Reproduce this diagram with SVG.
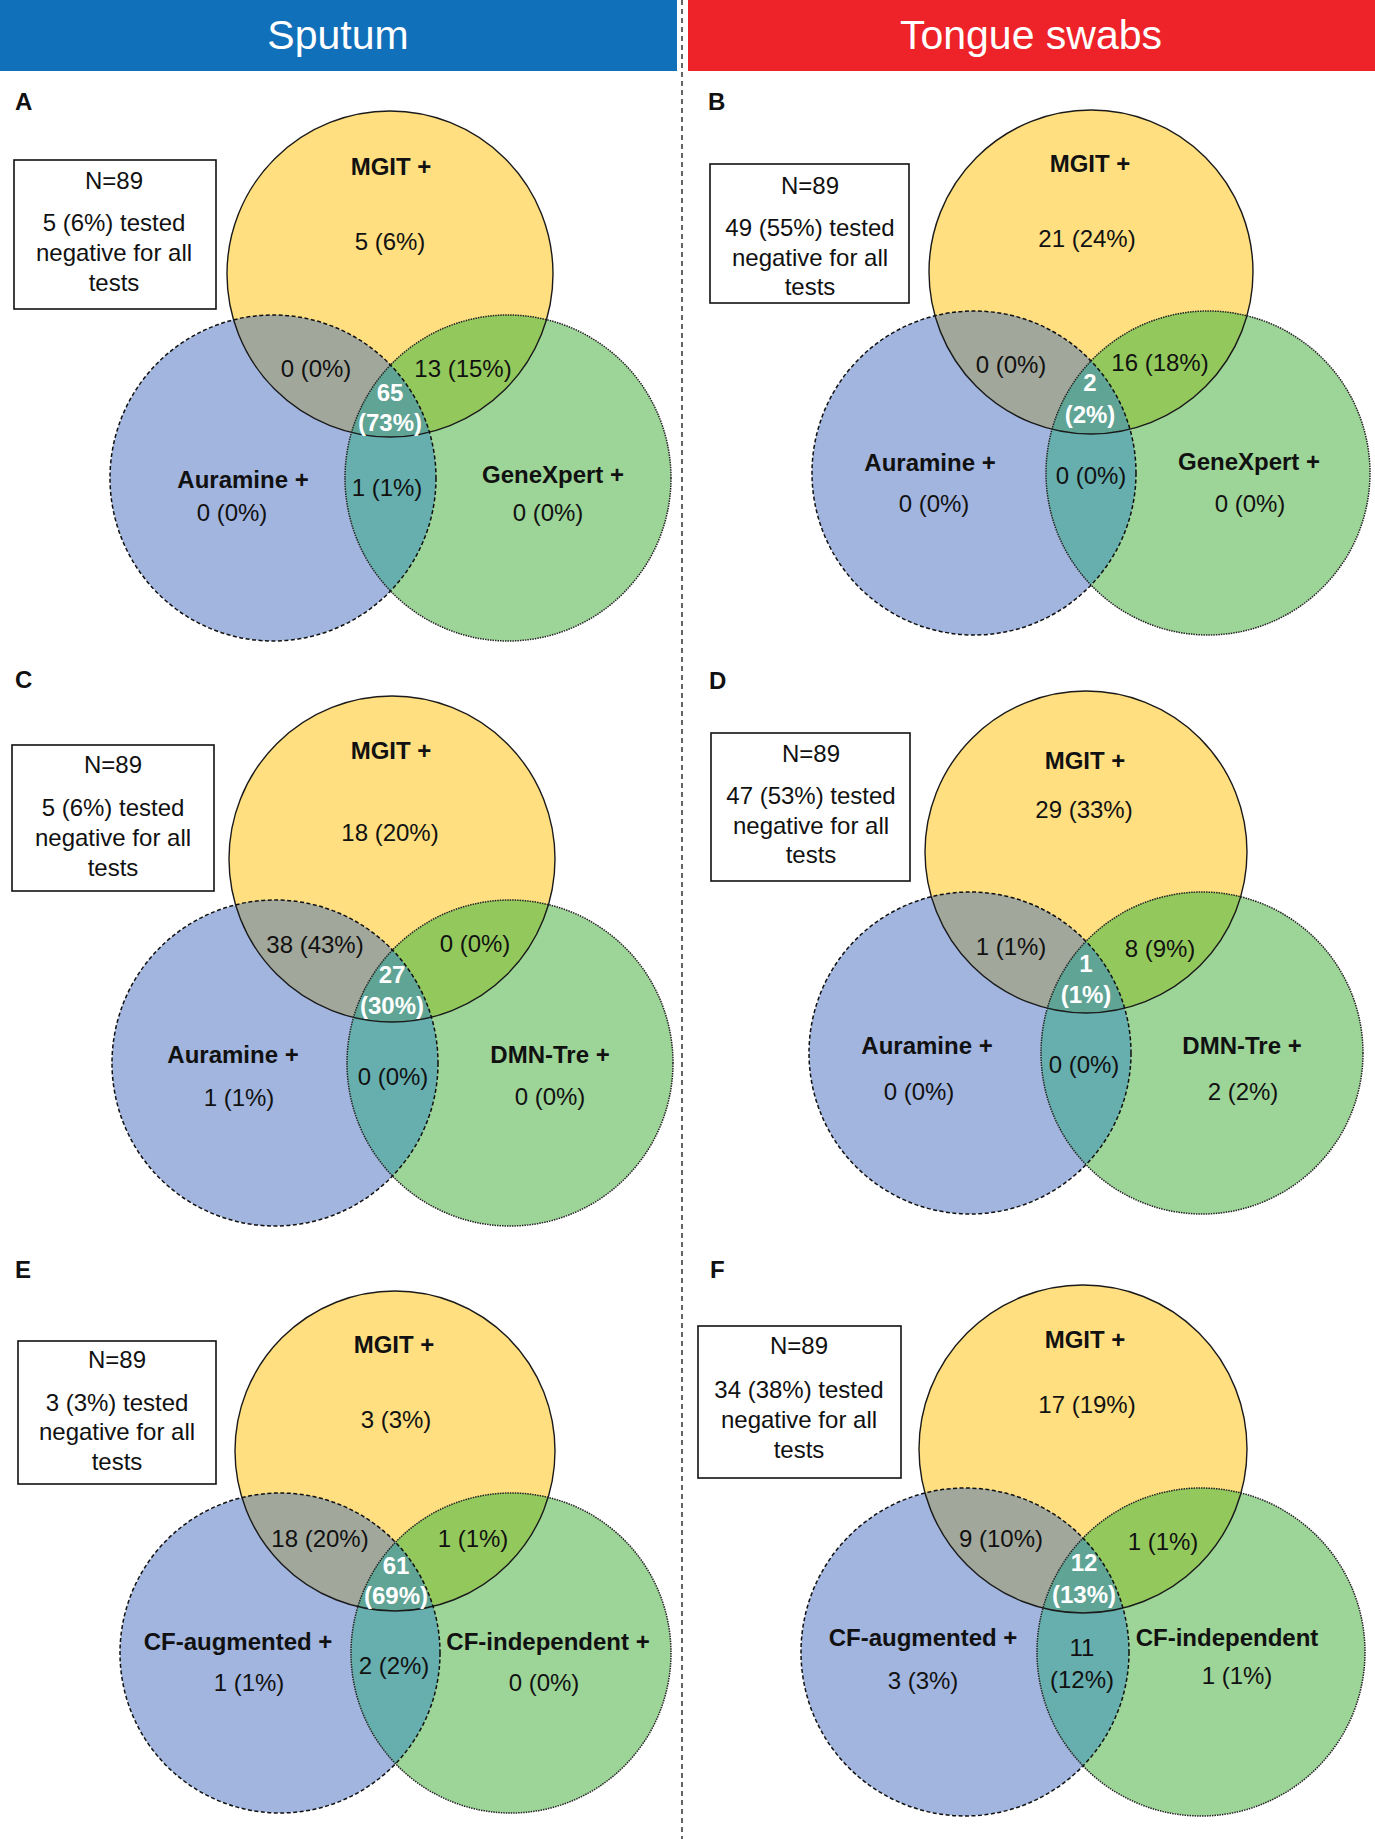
<svg xmlns="http://www.w3.org/2000/svg" width="1375" height="1839" viewBox="0 0 1375 1839">
<style>
text{font-family:"Liberation Sans",Arial,sans-serif;fill:#111}
.hdr{font-size:41px;fill:#fff;text-anchor:middle}
.let{font-size:24px;font-weight:bold}
.t{font-size:24px;text-anchor:middle}
.b{font-size:24px;font-weight:bold;text-anchor:middle}
.w{font-size:24px;font-weight:bold;text-anchor:middle;fill:#fff}
.box{fill:#fff;stroke:#111;stroke-width:1.6}
.y{fill:#FFDF80}
.a{fill:#A1B5DF}
.g{fill:#9DD497}
.ya{fill:#A2A79B}
.yg{fill:#93C95C}
.ag{fill:#66AFAE}
.yag{fill:#5FA495}
.ms{fill:none;stroke:#1a1a1a;stroke-width:1.4}
.gs{fill:none;stroke:#222;stroke-width:1.5;stroke-dasharray:1.5 1}
.as{fill:none;stroke:#111;stroke-width:1.5;stroke-dasharray:4 2.5}
</style>
<defs>
<clipPath id="A-cm"><circle cx="390" cy="274" r="163"/></clipPath>
<clipPath id="A-ca"><circle cx="273" cy="478" r="163"/></clipPath>
<clipPath id="B-cm"><circle cx="1091" cy="272" r="162"/></clipPath>
<clipPath id="B-ca"><circle cx="974" cy="473" r="162"/></clipPath>
<clipPath id="C-cm"><circle cx="392" cy="859" r="163"/></clipPath>
<clipPath id="C-ca"><circle cx="275" cy="1063" r="163"/></clipPath>
<clipPath id="D-cm"><circle cx="1086" cy="852" r="161"/></clipPath>
<clipPath id="D-ca"><circle cx="970" cy="1053" r="161"/></clipPath>
<clipPath id="E-cm"><circle cx="395" cy="1451" r="160"/></clipPath>
<clipPath id="E-ca"><circle cx="280" cy="1653" r="160"/></clipPath>
<clipPath id="F-cm"><circle cx="1083" cy="1449" r="164"/></clipPath>
<clipPath id="F-ca"><circle cx="965" cy="1652" r="164"/></clipPath>
</defs>
<rect x="0" y="0" width="677" height="71" fill="#1170BA"/>
<rect x="688" y="0" width="687" height="71" fill="#EE2229"/>
<text class="hdr" x="338" y="49">Sputum</text>
<text class="hdr" x="1031" y="49">Tongue swabs</text>
<line x1="682" y1="0" x2="682" y2="1839" stroke="#111" stroke-width="1.3" stroke-dasharray="5 4"/>

<g id="panelA">
<text class="let" x="15" y="110">A</text>
<g id="A-box"><rect class="box" x="14" y="160" width="202" height="149"/>
<text class="t" x="114" y="189">N=89</text>
<text class="t" x="114" y="231">5 (6%) tested</text>
<text class="t" x="114" y="261">negative for all</text>
<text class="t" x="114" y="291">tests</text></g>
<g id="A-MGIT"><circle class="y" cx="390" cy="274" r="163"/></g>
<g id="A-Auramine"><circle class="a" cx="273" cy="478" r="163"/></g>
<g id="A-GeneXpert"><circle class="g" cx="508" cy="478" r="163"/></g>
<g id="A-overlaps">
<circle class="ya" cx="273" cy="478" r="163" clip-path="url(#A-cm)"/>
<circle class="yg" cx="508" cy="478" r="163" clip-path="url(#A-cm)"/>
<circle class="ag" cx="508" cy="478" r="163" clip-path="url(#A-ca)"/>
<g clip-path="url(#A-cm)"><circle class="yag" cx="508" cy="478" r="163" clip-path="url(#A-ca)"/></g>
</g>
<circle class="ms" cx="390" cy="274" r="163"/>
<circle class="gs" cx="508" cy="478" r="163"/>
<circle class="as" cx="273" cy="478" r="163"/>
<text class="b" x="391" y="175">MGIT +</text>
<text class="t" x="390" y="250">5 (6%)</text>
<text class="t" x="316" y="377">0 (0%)</text>
<text class="t" x="463" y="377">13 (15%)</text>
<text class="w" x="390" y="401">65</text>
<text class="w" x="390" y="431">(73%)</text>
<text class="b" x="243" y="488">Auramine +</text>
<text class="t" x="232" y="521">0 (0%)</text>
<text class="t" x="387" y="496">1 (1%)</text>
<text class="b" x="553" y="483">GeneXpert +</text>
<text class="t" x="548" y="521">0 (0%)</text>
</g>

<g id="panelB">
<text class="let" x="708" y="110">B</text>
<g id="B-box"><rect class="box" x="710" y="164" width="199" height="139"/>
<text class="t" x="810" y="194">N=89</text>
<text class="t" x="810" y="236">49 (55%) tested</text>
<text class="t" x="810" y="266">negative for all</text>
<text class="t" x="810" y="295">tests</text></g>
<g id="B-MGIT"><circle class="y" cx="1091" cy="272" r="162"/></g>
<g id="B-Auramine"><circle class="a" cx="974" cy="473" r="162"/></g>
<g id="B-GeneXpert"><circle class="g" cx="1208" cy="473" r="162"/></g>
<g id="B-overlaps">
<circle class="ya" cx="974" cy="473" r="162" clip-path="url(#B-cm)"/>
<circle class="yg" cx="1208" cy="473" r="162" clip-path="url(#B-cm)"/>
<circle class="ag" cx="1208" cy="473" r="162" clip-path="url(#B-ca)"/>
<g clip-path="url(#B-cm)"><circle class="yag" cx="1208" cy="473" r="162" clip-path="url(#B-ca)"/></g>
</g>
<circle class="ms" cx="1091" cy="272" r="162"/>
<circle class="gs" cx="1208" cy="473" r="162"/>
<circle class="as" cx="974" cy="473" r="162"/>
<text class="b" x="1090" y="172">MGIT +</text>
<text class="t" x="1087" y="247">21 (24%)</text>
<text class="t" x="1011" y="373">0 (0%)</text>
<text class="t" x="1160" y="371">16 (18%)</text>
<text class="w" x="1090" y="391">2</text>
<text class="w" x="1090" y="423">(2%)</text>
<text class="b" x="930" y="471">Auramine +</text>
<text class="t" x="934" y="512">0 (0%)</text>
<text class="t" x="1091" y="484">0 (0%)</text>
<text class="b" x="1249" y="470">GeneXpert +</text>
<text class="t" x="1250" y="512">0 (0%)</text>
</g>

<g id="panelC">
<text class="let" x="15" y="688">C</text>
<g id="C-box"><rect class="box" x="12" y="745" width="202" height="146"/>
<text class="t" x="113" y="773">N=89</text>
<text class="t" x="113" y="816">5 (6%) tested</text>
<text class="t" x="113" y="846">negative for all</text>
<text class="t" x="113" y="876">tests</text></g>
<g id="C-MGIT"><circle class="y" cx="392" cy="859" r="163"/></g>
<g id="C-Auramine"><circle class="a" cx="275" cy="1063" r="163"/></g>
<g id="C-DMN"><circle class="g" cx="510" cy="1063" r="163"/></g>
<g id="C-overlaps">
<circle class="ya" cx="275" cy="1063" r="163" clip-path="url(#C-cm)"/>
<circle class="yg" cx="510" cy="1063" r="163" clip-path="url(#C-cm)"/>
<circle class="ag" cx="510" cy="1063" r="163" clip-path="url(#C-ca)"/>
<g clip-path="url(#C-cm)"><circle class="yag" cx="510" cy="1063" r="163" clip-path="url(#C-ca)"/></g>
</g>
<circle class="ms" cx="392" cy="859" r="163"/>
<circle class="gs" cx="510" cy="1063" r="163"/>
<circle class="as" cx="275" cy="1063" r="163"/>
<text class="b" x="391" y="759">MGIT +</text>
<text class="t" x="390" y="841">18 (20%)</text>
<text class="t" x="315" y="953">38 (43%)</text>
<text class="t" x="475" y="952">0 (0%)</text>
<text class="w" x="392" y="983">27</text>
<text class="w" x="392" y="1014">(30%)</text>
<text class="b" x="233" y="1063">Auramine +</text>
<text class="t" x="239" y="1106">1 (1%)</text>
<text class="t" x="393" y="1085">0 (0%)</text>
<text class="b" x="550" y="1063">DMN-Tre +</text>
<text class="t" x="550" y="1105">0 (0%)</text>
</g>

<g id="panelD">
<text class="let" x="709" y="689">D</text>
<g id="D-box"><rect class="box" x="711" y="733" width="199" height="148"/>
<text class="t" x="811" y="762">N=89</text>
<text class="t" x="811" y="804">47 (53%) tested</text>
<text class="t" x="811" y="834">negative for all</text>
<text class="t" x="811" y="863">tests</text></g>
<g id="D-MGIT"><circle class="y" cx="1086" cy="852" r="161"/></g>
<g id="D-Auramine"><circle class="a" cx="970" cy="1053" r="161"/></g>
<g id="D-DMN"><circle class="g" cx="1202" cy="1053" r="161"/></g>
<g id="D-overlaps">
<circle class="ya" cx="970" cy="1053" r="161" clip-path="url(#D-cm)"/>
<circle class="yg" cx="1202" cy="1053" r="161" clip-path="url(#D-cm)"/>
<circle class="ag" cx="1202" cy="1053" r="161" clip-path="url(#D-ca)"/>
<g clip-path="url(#D-cm)"><circle class="yag" cx="1202" cy="1053" r="161" clip-path="url(#D-ca)"/></g>
</g>
<circle class="ms" cx="1086" cy="852" r="161"/>
<circle class="gs" cx="1202" cy="1053" r="161"/>
<circle class="as" cx="970" cy="1053" r="161"/>
<text class="b" x="1085" y="769">MGIT +</text>
<text class="t" x="1084" y="818">29 (33%)</text>
<text class="t" x="1011" y="955">1 (1%)</text>
<text class="t" x="1160" y="957">8 (9%)</text>
<text class="w" x="1086" y="972">1</text>
<text class="w" x="1086" y="1003">(1%)</text>
<text class="b" x="927" y="1054">Auramine +</text>
<text class="t" x="919" y="1100">0 (0%)</text>
<text class="t" x="1084" y="1073">0 (0%)</text>
<text class="b" x="1242" y="1054">DMN-Tre +</text>
<text class="t" x="1243" y="1100">2 (2%)</text>
</g>

<g id="panelE">
<text class="let" x="15" y="1278">E</text>
<g id="E-box"><rect class="box" x="18" y="1341" width="198" height="143"/>
<text class="t" x="117" y="1368">N=89</text>
<text class="t" x="117" y="1411">3 (3%) tested</text>
<text class="t" x="117" y="1440">negative for all</text>
<text class="t" x="117" y="1470">tests</text></g>
<g id="E-MGIT"><circle class="y" cx="395" cy="1451" r="160"/></g>
<g id="E-CFaug"><circle class="a" cx="280" cy="1653" r="160"/></g>
<g id="E-CFind"><circle class="g" cx="511" cy="1653" r="160"/></g>
<g id="E-overlaps">
<circle class="ya" cx="280" cy="1653" r="160" clip-path="url(#E-cm)"/>
<circle class="yg" cx="511" cy="1653" r="160" clip-path="url(#E-cm)"/>
<circle class="ag" cx="511" cy="1653" r="160" clip-path="url(#E-ca)"/>
<g clip-path="url(#E-cm)"><circle class="yag" cx="511" cy="1653" r="160" clip-path="url(#E-ca)"/></g>
</g>
<circle class="ms" cx="395" cy="1451" r="160"/>
<circle class="gs" cx="511" cy="1653" r="160"/>
<circle class="as" cx="280" cy="1653" r="160"/>
<text class="b" x="394" y="1353">MGIT +</text>
<text class="t" x="396" y="1428">3 (3%)</text>
<text class="t" x="320" y="1547">18 (20%)</text>
<text class="t" x="473" y="1547">1 (1%)</text>
<text class="w" x="396" y="1574">61</text>
<text class="w" x="396" y="1604">(69%)</text>
<text class="b" x="238" y="1650">CF-augmented +</text>
<text class="t" x="249" y="1691">1 (1%)</text>
<text class="t" x="394" y="1674">2 (2%)</text>
<text class="b" x="548" y="1650">CF-independent +</text>
<text class="t" x="544" y="1691">0 (0%)</text>
</g>

<g id="panelF">
<text class="let" x="710" y="1278">F</text>
<g id="F-box"><rect class="box" x="698" y="1326" width="203" height="152"/>
<text class="t" x="799" y="1354">N=89</text>
<text class="t" x="799" y="1398">34 (38%) tested</text>
<text class="t" x="799" y="1428">negative for all</text>
<text class="t" x="799" y="1458">tests</text></g>
<g id="F-MGIT"><circle class="y" cx="1083" cy="1449" r="164"/></g>
<g id="F-CFaug"><circle class="a" cx="965" cy="1652" r="164"/></g>
<g id="F-CFind"><circle class="g" cx="1201" cy="1652" r="164"/></g>
<g id="F-overlaps">
<circle class="ya" cx="965" cy="1652" r="164" clip-path="url(#F-cm)"/>
<circle class="yg" cx="1201" cy="1652" r="164" clip-path="url(#F-cm)"/>
<circle class="ag" cx="1201" cy="1652" r="164" clip-path="url(#F-ca)"/>
<g clip-path="url(#F-cm)"><circle class="yag" cx="1201" cy="1652" r="164" clip-path="url(#F-ca)"/></g>
</g>
<circle class="ms" cx="1083" cy="1449" r="164"/>
<circle class="gs" cx="1201" cy="1652" r="164"/>
<circle class="as" cx="965" cy="1652" r="164"/>
<text class="b" x="1085" y="1348">MGIT +</text>
<text class="t" x="1087" y="1413">17 (19%)</text>
<text class="t" x="1001" y="1547">9 (10%)</text>
<text class="t" x="1163" y="1550">1 (1%)</text>
<text class="w" x="1084" y="1571">12</text>
<text class="w" x="1084" y="1603">(13%)</text>
<text class="b" x="923" y="1646">CF-augmented +</text>
<text class="t" x="923" y="1689">3 (3%)</text>
<text class="t" x="1082" y="1656">11</text>
<text class="t" x="1082" y="1688">(12%)</text>
<text class="b" x="1227" y="1646">CF-independent</text>
<text class="t" x="1237" y="1684">1 (1%)</text>
</g>
<g id="connectors"/>
</svg>
